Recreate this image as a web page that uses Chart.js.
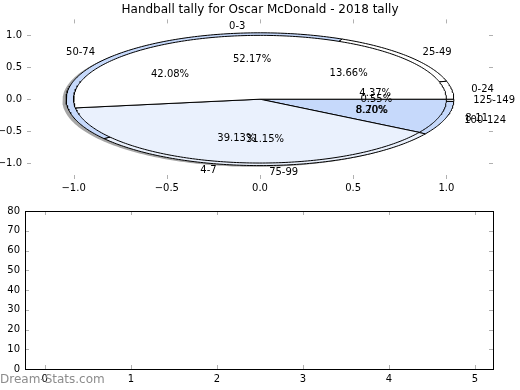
<!DOCTYPE html>
<html>
<head>
<meta charset="utf-8">
<script src="https://cdn.jsdelivr.net/npm/chart.js@4/dist/chart.umd.min.js"></script>
<style>
  html, body { margin: 0; padding: 0; background: #ffffff; }
  #wrap { position: relative; width: 520px; height: 390px; overflow: hidden; font-family: "DejaVu Sans", sans-serif; }
  #top { position: absolute; left: 0; top: 0; }
  #bottom { position: absolute; left: 0; top: 200px; }
  #mark { position: absolute; left: 0; top: 372px; font-size: 12px; color: #8c8c8c; font-family: "DejaVu Sans", sans-serif; white-space: nowrap; }
</style>
</head>
<body>
<div id="wrap">
  <canvas id="top" width="520" height="200"></canvas>
  <canvas id="bottom" width="520" height="190"></canvas>
  <div id="mark">Dream-Stats.com</div>
</div>
<script>
// ---- data ----
const titleText = 'Handball tally for Oscar McDonald - 2018 tally';
const pie1Labels = ['0-3', '4-7', '8-11'];
const pie1Values = [12, 9, 2];
const pie1Colors = ['#ffffff', '#eaf1fd', '#c6d9fb'];
const pie2Labels = ['0-24', '25-49', '50-74', '75-99', '100-124', '125-149'];
const pie2Values = [8, 25, 77, 57, 15, 1];
const pie2Colors = ['#ffffff', '#ffffff', '#c6d9fb', '#eaf1fd', '#c6d9fb', '#ffffff'];
const pieTicks = [-1.0, -0.5, 0.0, 0.5, 1.0];
const bottomXTicks = [0, 1, 2, 3, 4, 5];
const bottomYTicks = [0, 10, 20, 30, 40, 50, 60, 70, 80];

// ---- geometry helpers (derived from the values) ----
const PIE1_R = 1.0, PIE2_R = 1.04, LABEL_R = 1.04;
function wedges(values) {
  const total = values.reduce((a, b) => a + b, 0);
  let acc = 0;
  return values.map(v => {
    const a0 = acc / total * 360;
    acc += v;
    const a1 = acc / total * 360;
    return { a0, a1, pct: v / total * 100 };
  });
}
function wedgePoints(a0, a1, r, ox, oy) {
  const pts = [{ x: ox, y: oy }];
  const n = Math.max(2, Math.ceil((a1 - a0) / 1));
  for (let i = 0; i <= n; i++) {
    const a = (a0 + (a1 - a0) * i / n) * Math.PI / 180;
    pts.push({ x: ox + r * Math.cos(a), y: oy + r * Math.sin(a) });
  }
  pts.push({ x: ox, y: oy });
  return pts;
}

const w1 = wedges(pie1Values);
const w2 = wedges(pie2Values);

const datasets = [];
// pie 1 (on top)
w1.forEach((w, i) => datasets.push({
  label: pie1Labels[i], data: wedgePoints(w.a0, w.a1, PIE1_R, 0, 0),
  backgroundColor: pie1Colors[i], borderColor: '#000000', borderWidth: 1,
  fill: 'shape', pointRadius: 0, tension: 0, order: 10
}));
// pie 2 (behind)
w2.forEach((w, i) => datasets.push({
  label: pie2Labels[i], data: wedgePoints(w.a0, w.a1, PIE2_R, 0, 0),
  backgroundColor: pie2Colors[i], borderColor: '#000000', borderWidth: 1,
  fill: 'shape', pointRadius: 0, tension: 0, order: 20
}));
// shadows (furthest back)
[[w1, PIE1_R, pie1Colors], [w2, PIE2_R, pie2Colors]].forEach(([ws, r, cols]) => {
  ws.forEach((w, i) => datasets.push({
    label: 'shadow', data: wedgePoints(w.a0, w.a1, r, -0.02, -0.02),
    backgroundColor: 'rgba(77,77,77,0.5)', borderWidth: 0, borderColor: 'rgba(0,0,0,0)',
    fill: 'shape', pointRadius: 0, tension: 0, order: 30
  }));
});

Chart.defaults.font.family = '"DejaVu Sans", sans-serif';
Chart.defaults.font.size = 10;
Chart.defaults.color = '#000000';

const fmt = v => (v < 0 ? '\u2212' : '') + Math.abs(v).toFixed(1);

// inward tick marks on all four sides
const inTicks = {
  id: 'inTicks',
  afterDraw(chart) {
    const { ctx, chartArea: a, scales } = chart;
    ctx.save();
    ctx.strokeStyle = '#b0b0b0';
    ctx.lineWidth = 1;
    const L = 4;
    scales.x.ticks.forEach(t => {
      const px = Math.round(scales.x.getPixelForValue(t.value)) + 0.5;
      ctx.beginPath();
      ctx.moveTo(px, a.bottom); ctx.lineTo(px, a.bottom - L);
      ctx.moveTo(px, a.top); ctx.lineTo(px, a.top + L);
      ctx.stroke();
    });
    scales.y.ticks.forEach(t => {
      const py = Math.round(scales.y.getPixelForValue(t.value)) + 0.5;
      ctx.beginPath();
      ctx.moveTo(a.left, py); ctx.lineTo(a.left + L, py);
      ctx.moveTo(a.right, py); ctx.lineTo(a.right - L, py);
      ctx.stroke();
    });
    ctx.restore();
  }
};

// pie labels (text only)
const pieLabels = {
  id: 'pieLabels',
  afterDatasetsDraw(chart) {
    const { ctx, scales } = chart;
    ctx.save();
    ctx.font = '10px "DejaVu Sans", sans-serif';
    ctx.fillStyle = '#000000';
    ctx.textBaseline = 'middle';
    const draw = (ws, labels) => {
      ws.forEach((w, i) => {
        const m = (w.a0 + w.a1) / 2 * Math.PI / 180;
        const c = Math.cos(m), s = Math.sin(m);
        const lx = 1.1 * LABEL_R * c, ly = 1.1 * LABEL_R * s;
        ctx.textAlign = lx > 0 ? 'left' : 'right';
        ctx.fillText(labels[i], scales.x.getPixelForValue(lx), scales.y.getPixelForValue(ly));
        ctx.textAlign = 'center';
        ctx.fillText(w.pct.toFixed(2) + '%', scales.x.getPixelForValue(0.6 * LABEL_R * c), scales.y.getPixelForValue(0.6 * LABEL_R * s));
      });
    };
    draw(w2, pie2Labels);
    draw(w1, pie1Labels);
    ctx.restore();
  }
};

new Chart(document.getElementById('top'), {
  type: 'line',
  data: { datasets },
  options: {
    responsive: false, animation: false, devicePixelRatio: 1,
    layout: { padding: { left: 0, right: 27, top: 0, bottom: 0 } },
    plugins: {
      legend: { display: false }, tooltip: { enabled: false },
      title: { display: true, text: titleText, fullSize: false, color: '#000000',
               font: { size: 12, weight: 'normal' }, padding: { top: 3, bottom: 2 } }
    },
    scales: {
      x: { type: 'linear', min: -1.25, max: 1.25, border: { display: false },
           grid: { display: false, drawTicks: false },
           afterBuildTicks: s => { s.ticks = pieTicks.map(v => ({ value: v })); },
           afterFit: s => { s.height = 21; },
           ticks: { padding: 3, maxRotation: 0, callback: v => fmt(v) } },
      y: { type: 'linear', min: -1.25, max: 1.25, border: { display: false },
           grid: { display: false, drawTicks: false },
           afterBuildTicks: s => { s.ticks = pieTicks.map(v => ({ value: v })); },
           afterFit: s => { s.width = 27; },
           ticks: { padding: 5, callback: v => fmt(v) } }
    }
  },
  plugins: [inTicks, pieLabels]
});

new Chart(document.getElementById('bottom'), {
  type: 'scatter',
  data: { datasets: [{ data: [] }] },
  options: {
    responsive: false, animation: false, devicePixelRatio: 1,
    layout: { padding: { left: 0, right: 27, top: 10, bottom: 0 } },
    plugins: { legend: { display: false }, tooltip: { enabled: false } },
    scales: {
      x: { type: 'linear', min: -0.23, max: 5.21, position: 'bottom',
           border: { display: true, color: '#000000', width: 1 },
           grid: { display: false, drawTicks: false },
           afterBuildTicks: s => { s.ticks = bottomXTicks.map(v => ({ value: v })); },
           afterFit: s => { s.height = 21; },
           ticks: { padding: 4, maxRotation: 0, callback: v => String(v) } },
      y: { type: 'linear', min: 0, max: 80, border: { display: true, color: '#000000', width: 1 },
           grid: { display: false, drawTicks: false },
           afterBuildTicks: s => { s.ticks = bottomYTicks.map(v => ({ value: v })); },
           afterFit: s => { s.width = 25; },
           ticks: { padding: 5, callback: v => String(v) } }
    }
  },
  plugins: [inTicks, {
    id: 'frame',
    afterDraw(chart) {
      const { ctx, chartArea: a } = chart;
      ctx.save();
      ctx.strokeStyle = '#000000'; ctx.lineWidth = 1;
      ctx.strokeRect(Math.round(a.left) + 0.5, Math.round(a.top) + 0.5, Math.round(a.right - a.left), Math.round(a.bottom - a.top));
      ctx.restore();
    }
  }]
});
</script>
</body>
</html>
